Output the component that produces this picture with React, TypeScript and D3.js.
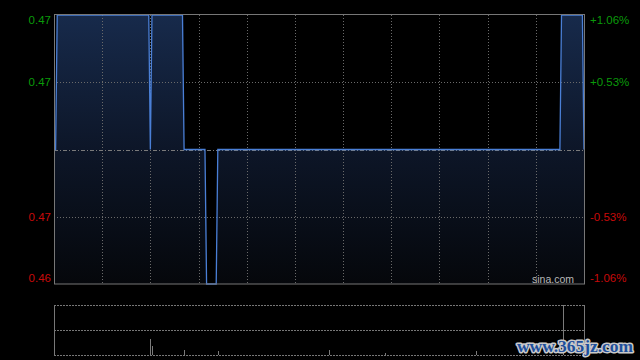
import React from "react";
import * as d3 from "d3";

// minute index (0..330 over the HK trading day) and price
const minutes = [0, 1, 2, 59, 60, 61, 80, 81, 94, 95, 101, 102, 315, 316, 329, 330];
const prices = [0.47, 0.47, 0.475, 0.475, 0.47, 0.475, 0.475, 0.47, 0.47, 0.465, 0.465, 0.47, 0.47, 0.475, 0.475, 0.47];

const volMinutes = [0, 60, 61, 81, 102, 171, 206, 263, 317];
const volValues = [20, 32, 18, 10, 8, 10, 4, 8, 100];

const prevClose = 0.47;
const priceTicks = [0.475, 0.4725, 0.4675, 0.465];
const priceTickLabels = ["0.47", "0.47", "0.47", "0.46"];
const pctTickLabels = ["+1.06%", "+0.53%", "-0.53%", "-1.06%"];
const totalMinutes = 330;
const gridCount = 11;

export default function App() {
  const W = 640, H = 360;
  const L = 54, R = 584, T = 15, B = 284;
  const vT = 305, vB = 355;

  const x = d3.scaleLinear().domain([0, totalMinutes]).range([L, R]);
  const y = d3.scaleLinear().domain([0.465, 0.475]).range([B, T]);
  const vy = d3.scaleLinear().domain([0, d3.max(volValues) as number]).range([vB, vT]);

  const pts = minutes.map((m, i) => [m, prices[i]] as [number, number]);
  const line = d3.line<[number, number]>().x(d => x(d[0])).y(d => y(d[1]))(pts) || "";
  const area = d3.area<[number, number]>().x(d => x(d[0])).y0(B).y1(d => y(d[1]))(pts) || "";

  const gridXs = d3.range(1, gridCount).map(i => x((totalMinutes / gridCount) * i));
  const labelY = (v: number, i: number) => {
    const yy = y(v);
    if (i === 0) return yy + 5;
    if (i === priceTicks.length - 1) return yy - 6;
    return yy;
  };

  return (
    <svg width={W} height={H} style={{ position: "absolute", left: 0, top: 0, background: "#000" }}
      fontFamily="'Liberation Sans', Arial, sans-serif">
      <defs>
        <linearGradient id="ag" x1="0" y1={T} x2="0" y2={B} gradientUnits="userSpaceOnUse">
          <stop offset="0" stopColor="#172a4b" />
          <stop offset="0.5" stopColor="#0d1628" />
          <stop offset="1" stopColor="#05070b" />
        </linearGradient>
      </defs>
      <rect x={0} y={0} width={W} height={H} fill="#000" />
      <path d={area} fill="url(#ag)" />
      {gridXs.map((gx, i) => (
        <line key={"gx" + i} x1={Math.round(gx) + 0.5} x2={Math.round(gx) + 0.5} y1={T} y2={B}
          stroke="#6a6a6a" strokeDasharray="1,2" />
      ))}
      {[0.4725, 0.4675].map((v, i) => (
        <line key={"gy" + i} x1={L} x2={R} y1={Math.round(y(v)) + 0.5} y2={Math.round(y(v)) + 0.5}
          stroke="#6a6a6a" strokeDasharray="1,2" />
      ))}
      <line x1={L} x2={R} y1={Math.round(y(prevClose)) + 0.5} y2={Math.round(y(prevClose)) + 0.5}
        stroke="#7a7a7a" strokeDasharray="4,2,1,2" />
      <path d={line} fill="none" stroke="#4a7fd6" strokeWidth={1.3} />
      <rect x={L + 0.5} y={T - 0.5} width={R - L} height={B - T + 0.5} fill="none" stroke="#777" strokeWidth={1} />
      {priceTicks.map((v, i) => (
        <text key={"l" + i} x={51} y={labelY(v, i)} dy="0.35em" textAnchor="end" fontSize={11.5}
          fill={v > prevClose ? "#0a9a0a" : "#c80a0a"}>{priceTickLabels[i]}</text>
      ))}
      {priceTicks.map((v, i) => (
        <text key={"r" + i} x={590} y={labelY(v, i)} dy="0.35em" textAnchor="start" fontSize={11.5}
          fill={v > prevClose ? "#0a9a0a" : "#c80a0a"}>{pctTickLabels[i]}</text>
      ))}
      <text x={532} y={282.5} fontSize={10.5} fill="#b8b8b8">sina.com</text>

      {/* volume panel */}
      {[vT, (vT + vB) / 2, vB].map((vy0, i) => (
        <line key={"vg" + i} x1={L} x2={R} y1={vy0 + 0.5} y2={vy0 + 0.5} stroke="#777" strokeDasharray="2,1" />
      ))}
      <line x1={L + 0.5} x2={L + 0.5} y1={vT} y2={vB} stroke="#777" />
      <line x1={R + 0.5} x2={R + 0.5} y1={vT} y2={vB} stroke="#777" />
      {volMinutes.map((m, i) => (
        <line key={"v" + i} x1={Math.round(x(m)) + 0.5} x2={Math.round(x(m)) + 0.5} y1={vB} y2={vy(volValues[i])}
          stroke="#7a7a7a" />
      ))}
      <text x={517} y={352} fontSize={17} fontWeight="bold" fontFamily="'Liberation Serif', serif"
        textLength={116} lengthAdjust="spacingAndGlyphs" fill="#1d4f9c" stroke="#c9c9c9" strokeWidth={3}
        paintOrder="stroke" strokeLinejoin="round">www.365jz.com</text>
    </svg>
  );
}
